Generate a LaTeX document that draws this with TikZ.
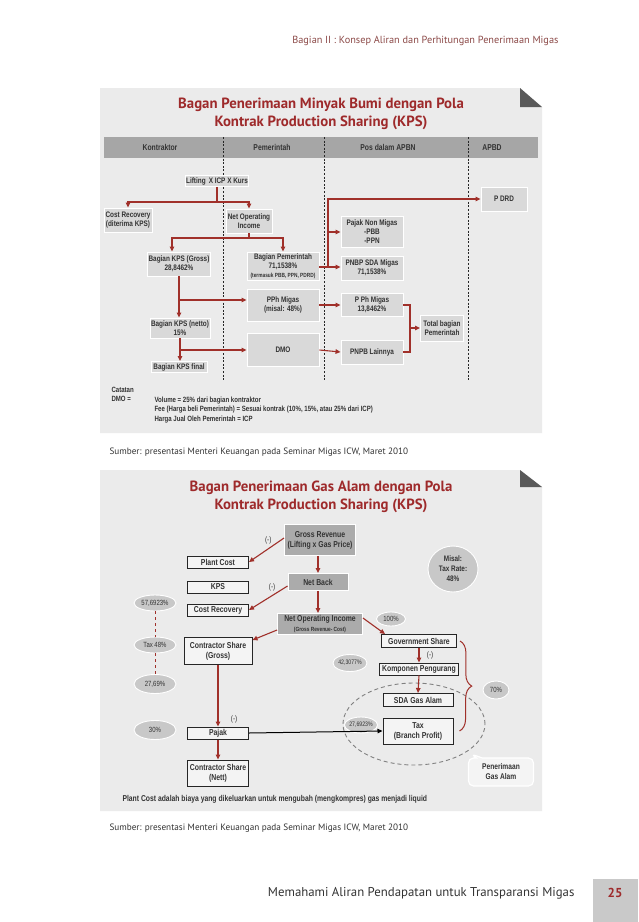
\documentclass[tikz,border=0pt]{standalone}
\usepackage{fontspec}
\setmainfont{PT Sans}
\newfontfamily\condfont[FakeStretch=0.8]{Liberation Sans}
\usetikzlibrary{positioning,arrows.meta,shapes.geometric,shapes.callouts,decorations.pathreplacing}
\definecolor{panelgray}{HTML}{EBEBEB}
\definecolor{bargray}{HTML}{A6A6A6}
\definecolor{boxgray}{HTML}{D9D9D9}
\definecolor{foldgray}{HTML}{595959}
\definecolor{arrowred}{HTML}{A0302A}
\definecolor{titlered}{HTML}{9E2A2B}
\definecolor{headred}{HTML}{8C4A48}
\definecolor{ellgray}{HTML}{C8C8C8}
\definecolor{gboxgray}{HTML}{ABABAB}
\definecolor{pagegray}{HTML}{C9C9C9}
\definecolor{txtgray}{HTML}{333333}
\definecolor{wboxfill}{HTML}{F4F4F4}
\newcommand{\tinytxt}[1]{{\fontsize{6}{7}\selectfont #1}}

\tikzset{
  title/.style={align=center, text=titlered, font=\bfseries\fontsize{14.8}{18}\selectfont},
  barlabel/.style={text=txtgray, font=\condfont\bfseries\fontsize{8.5}{10}\selectfont},
  tbox/.style={fill=boxgray, draw=white, line width=0.9pt, inner sep=1pt, align=center,
    text=txtgray, font=\condfont\bfseries\fontsize{8}{9}\selectfont},
  gbox/.style={fill=gboxgray, draw=white, line width=0.9pt, inner sep=1pt, align=center,
    text=txtgray, font=\condfont\bfseries\fontsize{8.6}{10}\selectfont},
  wbox/.style={fill=wboxfill, draw=black!85, line width=1pt, inner sep=1pt, align=center,
    text=txtgray, font=\condfont\bfseries\fontsize{8.6}{10}\selectfont},
  pct/.style={ellipse, fill=ellgray, draw=white, line width=0.9pt, inner sep=0pt, align=center,
    text=txtgray, font=\condfont\fontsize{7.5}{9}\selectfont},
  note/.style={text=txtgray, align=left, font=\condfont\bfseries\fontsize{7.6}{9.3}\selectfont},
  source/.style={anchor=west, text=black!80, font=\fontsize{9.2}{11}\selectfont},
  arr/.style={draw=arrowred, line width=1.1pt, -{Triangle[length=5pt,width=4.5pt]}},
  tline/.style={draw=arrowred, line width=1.1pt},
  divider/.style={draw=black!85, line width=0.7pt, dash pattern=on 2pt off 1.6pt},
  minus/.style={text=txtgray, font=\condfont\fontsize{8}{9}\selectfont}
}

\begin{document}
\begin{tikzpicture}[x=1pt,y=-1pt]
\useasboundingbox[fill=white] (0,0) rectangle (638,922);
%% page header and footer
\node[anchor=east, text=headred, font=\fontsize{10.3}{12}\selectfont] (pagehead) at (562,41) {Bagian II : Konsep Aliran dan Perhitungan Penerimaan Migas};
\fill[pagegray] (593,879) rectangle (638,922);
\node[text=titlered, font=\bfseries\fontsize{13}{15}\selectfont] (pagenum) at (615,893) {25};
\node[anchor=east, text=black!80, font=\fontsize{12.8}{15}\selectfont] (pagefoot) at (578,893) {Memahami Aliran Pendapatan untuk Transparansi Migas};

%% oil panel
\fill[panelgray] (100,88) -- (520,88) -- (542,107) -- (542,433) -- (100,433) -- cycle;
\fill[foldgray] (520,88) -- (542,107) -- (520,107) -- cycle;
\node[title] (oiltitle) at (321,114) {Bagan Penerimaan Minyak Bumi dengan Pola\\Kontrak Production Sharing (KPS)};
\fill[bargray] (104,137) rectangle (538,158);
\foreach \x/\lbl [count=\i] in {160/Kontraktor,272/Pemerintah,388/Pos dalam APBN,492/APBD}
  \node[barlabel] (col\i) at (\x,147.5) {\lbl};
\foreach \x in {223,324,468}
  \draw[divider] (\x,137) -- (\x,380);

%the nodes
\node[tbox, minimum width=60, minimum height=11] (lifting) at (217,181) {Lifting\, X ICP X Kurs};
\node[tbox, minimum width=48, minimum height=24] (costrec) at (128,220) {Cost Recovery\\(diterima KPS)};
\node[tbox, minimum width=46, minimum height=24] (netop) at (249,221) {Net Operating\\Income};
\node[tbox, minimum width=56, minimum height=24] (kpsgross) at (179,264) {Bagian KPS (Gross)\\28,8462\%};
\node[tbox, minimum width=72, minimum height=28] (bagpem) at (283,266) {Bagian Pemerintah\\71,1538\%\\\tinytxt{(termasuk PBB, PPN, PDRD)}};
\node[tbox, minimum width=72, minimum height=32] (pphmigas) at (283,305) {PPh Migas\\(misal: 48\%)};
\node[tbox, minimum width=58, minimum height=20] (kpsnetto) at (180,328) {Bagian KPS (netto)\\15\%};
\node[tbox, minimum width=72, minimum height=33] (dmo) at (283,350) {DMO};
\node[tbox, minimum width=56, minimum height=11] (kpsfinal) at (179,367) {Bagian KPS final};
\node[tbox, minimum width=62, minimum height=31] (nonmigas) at (372,232) {Pajak Non Migas\\-PBB\\-PPN};
\node[tbox, minimum width=62, minimum height=24] (pnbp) at (372,268) {PNBP SDA Migas\\71,1538\%};
\node[tbox, minimum width=62, minimum height=23] (pphapbn) at (372,305) {P Ph Migas\\13,8462\%};
\node[tbox, minimum width=62, minimum height=24] (pnpb) at (372,352) {PNPB Lainnya};
\node[tbox, minimum width=43, minimum height=26] (totalpem) at (442,328) {Total bagian\\Pemerintah};
\node[tbox, minimum width=46, minimum height=24] (pdrd) at (504,199) {P DRD};

%drawings of lines
\coordinate (splitlift) at (217,202);
\coordinate (splitnet) at (249,238);
\coordinate (splitpem) at (328,267);
\coordinate (joinpph) at (410,328);
\draw[tline] (lifting.south) -- (splitlift);
\draw[arr] (splitlift) -| (costrec.north);
\draw[arr] (splitlift) -| (netop.north);
\draw[tline] (netop.south) -- (splitnet);
\draw[arr] (splitnet) -| ([xshift=-7]kpsgross.north);
\draw[arr] (splitnet) -| (bagpem.north);
\draw[arr] (kpsgross.south) -- (kpsgross.south |- kpsnetto.north);
\draw[arr] (kpsgross.south |- pphmigas.west) ++(0,-5) -- ([yshift=5]pphmigas.west);
\draw[arr] (kpsnetto.south) -- (kpsnetto.south |- kpsfinal.north);
\draw[arr] (kpsnetto.south |- dmo.west) -- (dmo.west);
\draw[arr] (bagpem.east |- splitpem) -- (pnbp.west |- splitpem);
\draw[arr] (splitpem) |- (pdrd.west);
\draw[arr] (splitpem |- nonmigas.west) -- (nonmigas.west);
\draw[arr] (pphmigas.east) -- (pphapbn.west);
\draw[arr] (dmo.east) -- (pnpb.west);
\draw[tline] (pphapbn.east) -| (joinpph) |- (pnpb.east);
\draw[arr] (joinpph) -- (totalpem.west);

%% notes
\node[note, anchor=west] (catatan) at (108,390) {Catatan};
\node[note, anchor=west] (dmolabel) at (108,399) {DMO =};
\node[note, anchor=north west] (dmonote) at (151,393.5) {Volume = 25\% dari bagian kontraktor\\Fee (Harga beli Pemerintah) = Sesuai kontrak (10\%, 15\%, atau 25\% dari ICP)\\Harga Jual Oleh Pemerintah = ICP};
\node[source] (source1) at (106,452) {Sumber: presentasi Menteri Keuangan pada Seminar Migas ICW, Maret 2010};

%% gas panel
\fill[panelgray] (100,470) -- (520,470) -- (542,487) -- (542,811) -- (100,811) -- cycle;
\fill[foldgray] (520,470) -- (542,487) -- (520,487) -- cycle;
\node[title] (gastitle) at (321,497) {Bagan Penerimaan Gas Alam dengan Pola\\Kontrak Production Sharing (KPS)};
\draw[gray, line width=0.9pt, dash pattern=on 4pt off 3pt] (414,724) ellipse (71pt and 41pt);

%the nodes
\node[gbox, minimum width=71, minimum height=31] (grossrev) at (320,540) {Gross Revenue\\(Lifting x Gas Price)};
\node[gbox, minimum width=60, minimum height=17] (netback) at (318,582) {Net Back};
\node[gbox, minimum width=85, minimum height=21] (netopgas) at (320,624) {Net Operating Income\\\tinytxt{(Gross Revenue- Cost)}};
\node[wbox, minimum width=61, minimum height=12] (plantcost) at (218,562) {Plant Cost};
\node[wbox, minimum width=61, minimum height=12] (kps) at (218,587) {KPS};
\node[wbox, minimum width=61, minimum height=12] (costrecgas) at (218,610) {Cost Recovery};
\node[wbox, minimum width=68, minimum height=27] (csgross) at (218,651) {Contractor Share\\(Gross)};
\node[wbox, minimum width=61, minimum height=12] (pajak) at (218,733) {Pajak};
\node[wbox, minimum width=61, minimum height=26] (csnett) at (218,773) {Contractor Share\\(Nett)};
\node[wbox, minimum width=75, minimum height=13] (govshare) at (419,641) {Government Share};
\node[wbox, minimum width=79, minimum height=12] (komponen) at (419,669) {Komponen Pengurang};
\node[wbox, minimum width=70, minimum height=13] (sdagas) at (418,700) {SDA Gas Alam};
\node[wbox, minimum width=70, minimum height=26] (taxbp) at (418,731) {Tax\\(Branch Profit)};

\node[pct, minimum width=42, minimum height=16] (pctA) at (155,603) {57,6923\%};
\node[pct, minimum width=42, minimum height=16] (pctTax) at (155,645) {Tax 48\%};
\node[pct, minimum width=42, minimum height=19] (pctB) at (155,684) {27,69\%};
\node[pct, minimum width=42, minimum height=19] (pctC) at (155,730) {30\%};
\node[pct, minimum width=29, minimum height=14] (pctD) at (391,619) {100\%};
\node[pct, minimum width=34, minimum height=17, font=\condfont\fontsize{6.5}{8}\selectfont] (pctE) at (350,663) {42,3077\%};
\node[pct, minimum width=33, minimum height=16, font=\condfont\fontsize{6.5}{8}\selectfont] (pctF) at (361,725) {27,6923\%};
\node[pct, minimum width=26, minimum height=18] (pctG) at (496,690) {70\%};
\node[pct, minimum width=50, minimum height=46, font=\condfont\bfseries\fontsize{8}{10}\selectfont] (taxrate) at (453,569) {Misal:\\Tax Rate:\\48\%};
\node[rectangle callout, rounded corners=5pt, fill=wboxfill, draw=white, line width=1.2pt,
  minimum width=65, minimum height=28, align=center, text=txtgray,
  font=\condfont\bfseries\fontsize{8.3}{10}\selectfont,
  callout absolute pointer={(471,754)}, callout pointer width=6pt] (penerimaan) at (501,772) {Penerimaan\\Gas Alam};

%drawings of lines
\draw[arr] ([yshift=2]grossrev.west) -- (plantcost.east) node[minus, pos=0.45, above=1pt] {(-)};
\draw[arr] (netback.north |- grossrev.south) -- (netback.north);
\draw[arr] ([yshift=-4]netback.west) -- (costrecgas.east) node[minus, pos=0.4, above=1pt] {(-)};
\draw[arr] (netback.south) -- (netback.south |- netopgas.north);
\draw[arr] ([yshift=-6]netopgas.west) -- ([yshift=-3]csgross.north east);
\draw[arr] ([yshift=6]netopgas.east) -- ([xshift=4]govshare.north west);
\draw[arr] (govshare.south) -- (komponen.north) node[minus, midway, right=4pt] {(-)};
\draw[arr] (komponen.south) -- (sdagas.north);
\draw[arr] (csgross.south) -- (pajak.north) node[minus, pos=0.88, right=9pt] {(-)};
\draw[arr] (pajak.south) -- (csnett.north);
\draw[line width=1pt, -{Triangle[length=5pt,width=4.5pt]}] (pajak.east) -- (taxbp.west);
\draw[arrowred, line width=1pt, dash pattern=on 3pt off 3pt] (pctA.south) -- (pctTax.north);
\draw[arrowred, line width=1pt, dash pattern=on 3pt off 3pt] (pctTax.south) -- (pctB.north);
\draw[arrowred, line width=1pt, decorate, decoration={brace, amplitude=12pt, aspect=0.5}]
  ([xshift=3]govshare.east) -- ([xshift=6]taxbp.east);

\node[note, anchor=west, font=\condfont\bfseries\fontsize{8.5}{10}\selectfont] (plantnote) at (119,799) {Plant Cost adalah biaya yang dikeluarkan untuk mengubah (mengkompres) gas menjadi liquid};
\node[source] (source2) at (106,828) {Sumber: presentasi Menteri Keuangan pada Seminar Migas ICW, Maret 2010};
\end{tikzpicture}
\end{document}
